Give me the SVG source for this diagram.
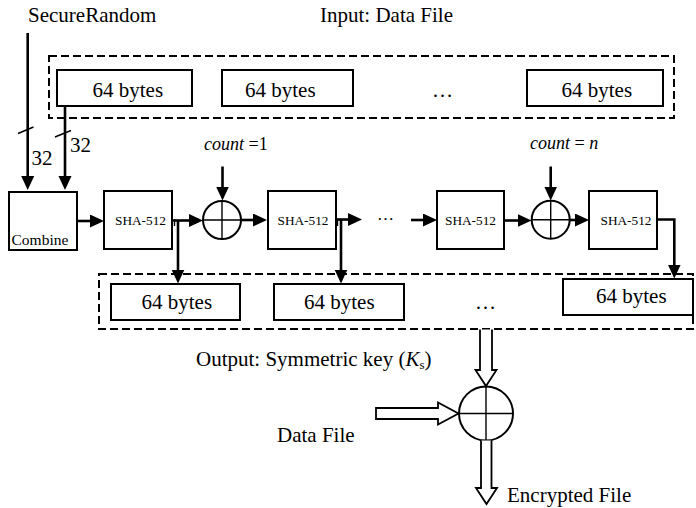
<svg xmlns="http://www.w3.org/2000/svg" width="696" height="508" viewBox="0 0 696 508">
  <style>
    text { font-family: "Liberation Serif", "Times New Roman", serif; fill: #000; }
    .lbl { font-size: 21px; }
    .sha { font-size: 13.3px; }
    .cnt { font-size: 18px; }
    .box { fill: #fff; stroke: #000; stroke-width: 2; }
    .dash { fill: none; stroke: #000; stroke-width: 2; stroke-dasharray: 8 4; }
    .wire { fill: none; stroke: #000; stroke-width: 2.6; }
    .thin { fill: none; stroke: #000; stroke-width: 1.4; }
    .xor { fill: #fff; stroke: #000; stroke-width: 2; }
    .hollow { fill: #fff; stroke: #000; stroke-width: 1.8; stroke-linejoin: miter; }
  </style>
  <defs>
    <marker id="ah" markerUnits="userSpaceOnUse" markerWidth="15" markerHeight="14" refX="9" refY="6.5" orient="auto">
      <path d="M0,0 L14,6.5 L0,13 Z" fill="#000"/>
    </marker>
  </defs>

  <rect width="696" height="508" fill="#fff"/>

  <!-- headings -->
  <text class="lbl" x="28" y="22">SecureRandom</text>
  <text class="lbl" x="320" y="22">Input: Data File</text>

  <!-- input blocks -->
  <g id="input-group">
    <rect class="dash" x="49" y="56" width="625" height="62"/>
  </g>
  <g id="in1"><rect class="box" x="57" y="70" width="135" height="36"/><text class="lbl" x="92.5" y="96.5">64 bytes</text></g>
  <g id="in2"><rect class="box" x="222" y="70" width="131" height="36"/><text class="lbl" x="245" y="96.5">64 bytes</text></g>
  <text class="lbl" x="432" y="96.5" font-size="20">…</text>
  <g id="in3"><rect class="box" x="527" y="70" width="136" height="36"/><text class="lbl" x="561.5" y="96.5">64 bytes</text></g>

  <!-- hashing chain -->
  <g id="combine"><rect class="box" x="9" y="192" width="68" height="58"/><text x="11.5" y="245" font-size="15.5">Combine</text></g>
  <g id="sha1"><rect class="box" x="104" y="191" width="68" height="58"/><text class="sha" x="115" y="225">SHA-512</text></g>
  <g id="xor1">
    <circle class="xor" cx="222" cy="220" r="19"/>
    <path class="thin" d="M203,220 H241 M222,201 V239" stroke-width="2"/>
  </g>
  <g id="sha2"><rect class="box" x="268" y="191" width="68" height="58"/><text class="sha" x="277.5" y="225">SHA-512</text></g>
  <text x="377" y="219.5" font-size="17">…</text>
  <g id="sha3"><rect class="box" x="437" y="191" width="67" height="58"/><text class="sha" x="445" y="225">SHA-512</text></g>
  <g id="xor2">
    <circle class="xor" cx="550.7" cy="219.7" r="19"/>
    <path class="thin" d="M531.7,219.7 H569.7 M550.7,200.7 V238.7" stroke-width="2"/>
  </g>
  <g id="sha4"><rect class="box" x="589" y="191" width="68" height="58"/><text class="sha" x="600.5" y="224.5">SHA-512</text></g>

  <text class="cnt" x="204" y="150"><tspan font-style="italic">count</tspan> =1</text>
  <text class="cnt" x="530" y="148.5"><tspan font-style="italic">count</tspan> = <tspan font-style="italic">n</tspan></text>

  <text class="lbl" x="31.5" y="165">32</text>
  <text class="lbl" x="70" y="151.5">32</text>

  <!-- key output blocks -->
  <g id="output-group">
    <rect class="dash" x="99" y="274" width="594" height="55"/>
  </g>
  <g id="out1"><rect class="box" x="111" y="284" width="129" height="36"/><text class="lbl" x="141.5" y="308.5">64 bytes</text></g>
  <g id="out2"><rect class="box" x="274" y="284" width="130" height="36"/><text class="lbl" x="304" y="308.5">64 bytes</text></g>
  <text class="lbl" x="475" y="308.5" font-size="19">…</text>
  <g id="out3"><rect class="box" x="563" y="279" width="130" height="36"/><text class="lbl" x="596" y="302.5">64 bytes</text></g>

  <text class="lbl" x="196" y="366">Output: Symmetric key (<tspan font-style="italic">K</tspan><tspan font-size="13" dy="3">s</tspan><tspan dy="-3">)</tspan></text>

  <!-- encryption stage -->
  <g id="xor3">
    <circle class="xor" cx="486" cy="413.5" r="27"/>
    <path class="thin" d="M459,413.5 H513 M486,386.5 V440.5" stroke-width="2"/>
  </g>
  <text class="lbl" x="277" y="442">Data File</text>
  <text class="lbl" x="507" y="501.5">Encrypted File</text>

  <!-- connectors -->
  <g id="connectors">
    <path class="wire" d="M27.7,33 V185" marker-end="url(#ah)"/>
    <path class="wire" d="M65,106 V185" marker-end="url(#ah)"/>
    <path class="thin" d="M18,133.5 L33.5,127 M55,137 L71,130.5"/>
    <path class="wire" d="M77,221 H99" marker-end="url(#ah)"/>
    <path class="wire" d="M172,220.5 H198" marker-end="url(#ah)"/>
    <path class="wire" d="M178,220.5 V278.5" marker-end="url(#ah)"/>
    <path class="thin" d="M174.5,219 V226"/>
    <path class="wire" d="M222.5,166.5 V195.5" marker-end="url(#ah)"/>
    <path class="wire" d="M241,220 H262" marker-end="url(#ah)"/>
    <path class="wire" d="M336,219.5 H357" marker-end="url(#ah)"/>
    <path class="wire" d="M341,219.5 V278.5" marker-end="url(#ah)"/>
    <path class="thin" d="M337.5,219 V226"/>
    <path class="wire" d="M411,220 H432" marker-end="url(#ah)"/>
    <path class="wire" d="M504,220.5 H526.5" marker-end="url(#ah)"/>
    <path class="wire" d="M550.7,166.5 V195.5" marker-end="url(#ah)"/>
    <path class="wire" d="M569.5,220 H584" marker-end="url(#ah)"/>
    <path class="wire" d="M657,219.5 H674.3 V273.5" marker-end="url(#ah)"/>
    <!-- hollow arrows -->
    <path class="hollow" d="M480,329.5 V370 H475.5 L486,386 L496.5,370 H492 V329.5"/>
    <path class="hollow" d="M376,408 H438 V402.5 L458.5,413.5 L438,424.5 V419 H376 Z"/>
    <path class="hollow" d="M481,440.5 V488 H476 L486.5,504 L497,488 H491.5 V440.5"/>
  </g>
</svg>
